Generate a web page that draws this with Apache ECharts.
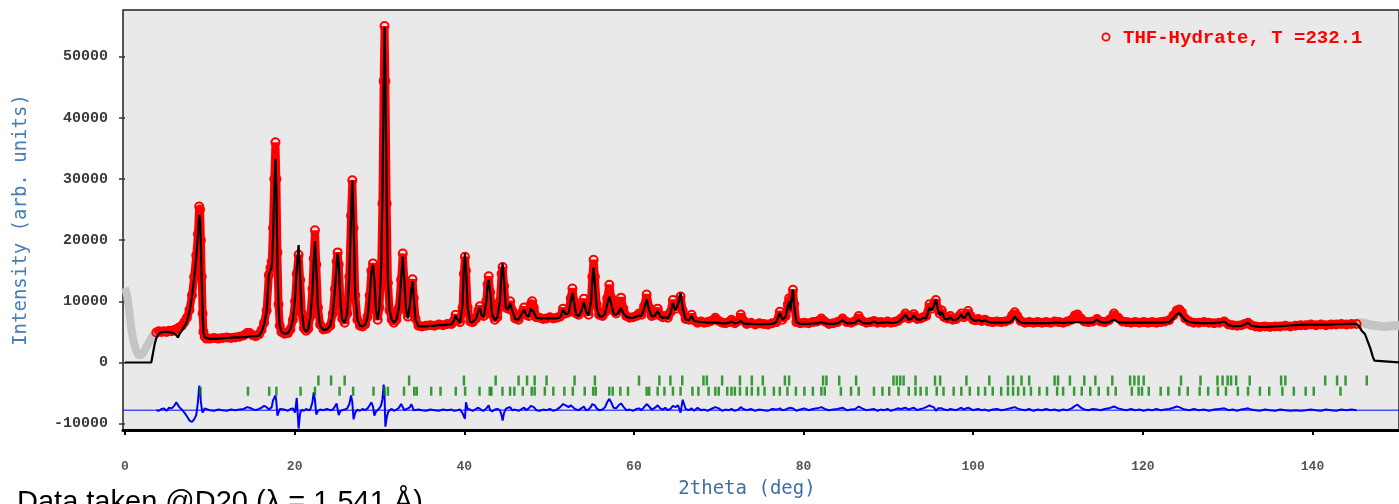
<!DOCTYPE html>
<html>
<head>
<meta charset="utf-8">
<script src="https://cdn.jsdelivr.net/npm/echarts@6/dist/echarts.min.js"></script>
<style>
html,body{margin:0;padding:0;background:#fff;}
#main{width:1399px;height:504px;}
</style>
</head>
<body>
<div id="main"></div>
<script>
// ---- data ----
const legendLabel = 'THF-Hydrate, T =232.1';
const xTickValues = [0, 20, 40, 60, 80, 100, 120, 140];
const yTickValues = [-10000, 0, 10000, 20000, 30000, 40000, 50000];
const diffZero = -7800;

// 2theta grid of the measured range
const tth = [
 3.7,4.0,4.3,4.6,4.9,5.2,5.5,5.8,6.05,6.25,
 6.4,6.7,7.0,7.3,7.6,7.9,8.15,8.4,8.6,8.75,
 8.85,8.95,9.05,9.15,9.25,9.4,9.6,10.0,10.5,11.0,
 11.5,12.0,12.5,13.0,13.5,14.0,14.4,14.7,15.0,15.4,
 15.8,16.1,16.4,16.7,16.96,17.15,17.3,17.45,17.6,17.74,
 17.85,17.97,18.1,18.25,18.45,18.8,19.2,19.5,19.8,20.05,
 20.25,20.47,20.65,20.85,21.1,21.35,21.6,21.85,22.1,22.25,
 22.4,22.55,22.75,23.0,23.4,23.8,24.2,24.5,24.75,24.95,
 25.07,25.2,25.4,25.6,25.9,26.2,26.45,26.65,26.8,26.95,
 27.15,27.4,27.7,28.0,28.3,28.6,28.85,29.05,29.24,29.4,
 29.6,29.8,30.0,30.2,30.35,30.5,30.6,30.7,30.85,31.0,
 31.2,31.45,31.7,32.0,32.3,32.55,32.75,32.95,33.15,33.35,
 33.6,33.75,33.9,34.05,34.25,34.6,35.0,35.5,36.0,36.5,
 37.0,37.5,38.0,38.5,38.8,38.98,39.2,39.5,39.8,39.95,
 40.08,40.2,40.4,40.7,41.0,41.4,41.65,41.83,42.05,42.3,
 42.6,42.75,42.88,43.05,43.3,43.6,43.9,44.2,44.4,44.52,
 44.7,44.9,45.15,45.4,45.65,46.0,46.4,46.8,47.05,47.3,
 47.6,47.85,48.0,48.2,48.5,48.9,49.3,49.7,50.1,50.5,
 50.9,51.3,51.65,51.95,52.3,52.55,52.75,52.95,53.2,53.5,
 53.8,54.1,54.35,54.65,54.95,55.1,55.25,55.4,55.6,55.9,
 56.3,56.6,56.85,57.1,57.35,57.6,57.9,58.2,58.48,58.75,
 59.1,59.5,59.9,60.3,60.6,60.9,61.2,61.5,61.8,62.1,
 62.5,62.8,63.1,63.4,63.7,64.0,64.3,64.6,64.9,65.2,
 65.5,65.75,66.1,66.5,66.8,67.1,67.5,67.9,68.3,68.7,
 69.1,69.6,70.0,70.4,70.8,71.2,71.5,71.9,72.3,72.6,
 72.9,73.3,73.8,74.3,74.8,75.3,75.8,76.3,76.8,77.2,
 77.5,77.9,78.15,78.3,78.45,78.6,78.75,78.9,79.15,79.6,
 80.1,80.6,81.1,81.6,82.1,82.5,83.0,83.5,84.0,84.6,
 85.1,85.6,86.1,86.5,86.9,87.4,87.9,88.3,88.7,89.1,
 89.5,89.9,90.3,90.7,91.1,91.5,92.0,92.4,92.7,93.0,
 93.4,93.8,94.1,94.45,94.85,95.1,95.35,95.6,95.85,96.05,
 96.3,96.6,97.0,97.3,97.6,98.0,98.3,98.6,98.9,99.15,
 99.4,99.7,100.0,100.3,100.6,101.0,101.4,101.8,102.3,102.8,
 103.3,103.8,104.3,104.6,104.9,105.2,105.6,106.1,106.6,107.1,
 107.6,108.1,108.6,109.1,109.6,110.1,110.6,111.1,111.6,112.0,
 112.3,112.7,113.1,113.6,114.1,114.6,115.0,115.5,116.0,116.6,
 117.1,117.6,118.1,118.6,119.1,119.6,120.1,120.6,121.1,121.6,
 122.1,122.6,123.1,123.6,124.0,124.3,124.6,125.0,125.5,126.0,
 126.6,127.2,127.8,128.4,129.0,129.6,130.1,130.6,131.1,131.6,
 132.0,132.4,132.8,133.3,133.8,134.4,135.0,135.6,136.2,136.8,
 137.4,138.0,138.6,139.2,139.8,140.4,141.0,141.6,142.2,142.8,
 143.4,144.0,144.6,145.2
];

// observed intensity
const obs = [
 4900,5100,5000,5100,5000,5200,5100,5300,5400,5600,
 5700,6000,6600,7300,8600,11000,14000,17500,21000,25500,
 25000,20000,14000,8000,5000,4200,3900,3900,4000,3900,
 4000,4100,4000,4100,4200,4400,4800,4800,4500,4300,
 4600,5300,6500,8500,14300,15500,16500,22000,30000,36000,
 30000,18000,9500,6000,5000,4700,4800,5400,7000,10000,
 14500,17600,13500,8000,5600,5200,5500,7500,12000,17000,
 21600,16000,9000,6200,5400,5500,6000,8000,12000,16500,
 18000,16000,10000,7200,6500,8000,14000,24000,29800,22000,
 11000,7000,6000,5900,6200,7500,11000,15000,16200,13000,
 8500,7000,9000,15000,26000,46000,55000,46000,26000,13000,
 8500,7000,6500,7000,9000,13500,17800,13000,8500,7500,
 9500,12000,13600,10500,7200,6000,5900,6000,6100,6000,
 6200,6100,6300,6300,6900,7800,6900,6600,9000,14500,
 17300,15000,9000,6700,6600,7200,8500,9200,7800,7600,
 10000,12800,14100,11500,7800,7000,7400,10000,14500,15600,
 12500,9000,8800,10000,8500,7200,7000,8200,9000,7800,
 7600,9500,10000,9000,7400,7300,7100,7200,7400,7200,
 7300,7500,8800,8000,8200,10500,12100,10000,8000,7800,
 8600,10400,8500,7800,10500,14000,16800,14000,9500,7800,
 7600,8200,10500,12700,10500,8500,8000,9000,10600,8800,
 7600,7300,7400,7600,8000,7800,9200,11100,9000,7600,
 7800,8800,7700,7400,7600,7300,8200,10200,8800,9500,
 10800,8500,7100,7000,7800,6900,6500,6700,6500,6600,
 6800,7300,6800,6500,6400,6600,7000,6400,6800,7850,
 6900,6300,6500,6200,6400,6300,6200,6400,6600,8300,
 7000,7600,9500,10500,9000,10500,11900,9500,6600,6400,
 6500,6400,6600,6700,7200,6700,6300,6400,6600,7200,
 6600,6500,6800,7600,6800,6500,6600,6800,6500,6600,
 6500,6700,6500,6600,6800,7200,8000,7200,7400,7900,
 7100,7200,7400,7600,9500,8800,9500,10200,8800,8000,
 8500,7400,7200,7600,7000,7100,7500,8000,7400,7800,
 8400,7600,7000,6900,7100,6800,7000,6700,6600,6700,
 6600,6700,7000,7700,8200,7600,6800,6500,6600,6500,
 6600,6500,6600,6500,6700,6600,6500,6700,7000,7700,
 7850,7200,6700,6600,6700,7100,6700,6600,6900,8000,
 7300,6700,6600,6500,6600,6500,6600,6500,6600,6500,
 6600,6700,6900,7700,8500,8650,8200,7200,6700,6500,
 6500,6600,6500,6400,6500,6700,6200,6100,6000,6100,
 6300,6500,6100,5900,5800,5900,5800,5900,5900,6000,
 5900,6000,6100,6100,6200,6100,6200,6100,6200,6200,
 6300,6200,6300,6300
];

// calculated profile
const calc = [
 4000,4700,4950,5000,5000,4950,4900,4700,4500,4050,
 4600,5200,5900,6700,8300,10800,13800,17000,21000,24100,
 23500,19000,13300,8000,5000,4100,3800,3850,3850,3900,
 3950,4000,4050,4100,4100,4150,4200,4250,4300,4300,
 4400,5000,6200,8300,14300,15100,15500,20000,28000,33300,
 28000,16000,9000,6000,5000,4700,4800,5400,7000,10500,
 15500,19200,14000,8200,5600,5000,5400,7400,11500,16500,
 19800,15500,9000,6000,5300,5400,6000,8000,12000,16000,
 17850,16000,10000,7000,6500,8000,14000,24000,29750,23000,
 11000,7000,6000,5900,6200,7300,11000,14800,16000,13500,
 8500,7000,9000,15500,27000,45000,54900,47000,27000,13500,
 8500,7000,6500,7000,9000,13500,17300,13000,8500,7200,
 9500,12000,13300,10500,7000,5900,5900,5900,6000,6000,
 6100,6100,6200,6250,6900,7700,7000,6500,9500,15500,
 17850,15500,9000,6600,6600,7200,8300,8900,7700,7500,
 10000,12800,13500,11500,7800,6900,7400,10000,15000,16200,
 13000,9000,8600,9700,8500,7100,7000,8000,8650,7800,
 7500,8800,8900,8200,7300,7200,7200,7200,7200,7200,
 7200,7400,8600,7900,8000,10000,11350,9800,7800,7600,
 8400,9900,8400,7700,10000,13500,15500,13000,9000,7600,
 7500,8000,9500,10800,9500,8000,7700,8200,8900,8000,
 7500,7300,7300,7500,7700,7600,8800,10300,8600,7500,
 7700,8400,7600,7300,7400,7200,8000,9700,8500,9500,
 11350,8800,7000,6900,7600,6800,6700,6600,6600,6500,
 6500,6500,6500,6400,6400,6500,6700,6400,6500,6800,
 6400,6300,6300,6250,6250,6250,6300,6300,6600,8100,
 7000,7500,9300,10000,8500,10500,11900,9200,6600,6300,
 6300,6300,6400,6400,6600,6400,6300,6300,6400,6900,
 6400,6400,6500,7000,6500,6400,6400,6700,6400,6500,
 6500,6600,6450,6500,6600,7000,7800,7000,7100,7700,
 7000,7000,7300,7200,9000,8500,9200,10300,8600,7700,
 8300,7200,7000,7400,6900,7000,7300,7800,7200,7600,
 8200,7300,6900,6800,7000,6700,6900,6600,6500,6500,
 6500,6500,6600,6900,7500,7000,6500,6450,6450,6450,
 6450,6450,6450,6450,6500,6500,6450,6500,6500,6600,
 6600,6550,6500,6500,6500,7000,6600,6500,6600,7000,
 6600,6500,6500,6500,6500,6500,6500,6500,6500,6500,
 6500,6550,6600,7200,7900,8100,7600,6900,6600,6500,
 6450,6450,6450,6450,6500,6700,6100,5950,5950,6000,
 6200,6500,6000,5900,5800,5800,5850,5900,5950,6000,
 6050,6100,6150,6200,6200,6200,6200,6200,6200,6250,
 6250,6300,6300,6300
];

// calculated profile outside the measured range
const calcHeadX = [0, 3.1, 3.3, 3.5];
const calcHeadY = [0, 0, 1500, 3000];
const calcTailX = [145.5, 145.8, 146.2, 146.5, 146.8, 147.1, 147.3, 147.5, 150.2];
const calcTailY = [5900, 5200, 4600, 3500, 2400, 1000, 300, 0, 0];

// difference curve (obs - calc, shifted)
const diff = [
 -7800,-7900,-7600,-7500,-7900,-7400,-7500,-7100,-6500,-6800,
 -7300,-7700,-8200,-8800,-9500,-9700,-9300,-8600,-6500,-3800,
 -4500,-6500,-7500,-8200,-7900,-7500,-7700,-7800,-7900,-7700,
 -7800,-7900,-7700,-7800,-7700,-7600,-7300,-7400,-7600,-7800,
 -7600,-7400,-7100,-7300,-7700,-7500,-7300,-6200,-5800,-5400,
 -6500,-8700,-8400,-7600,-7800,-7700,-7900,-7600,-7500,-8200,
 -5800,-10800,-8300,-7700,-7900,-7600,-7800,-7700,-6500,-4900,
 -6200,-8500,-7900,-7700,-7800,-7600,-7800,-7700,-7200,-6700,
 -7000,-8600,-7900,-7600,-7700,-7500,-6800,-5400,-6500,-9300,
 -8200,-7700,-7900,-7600,-7800,-7500,-7000,-6500,-7200,-8700,
 -8000,-7700,-7500,-7000,-6000,-3600,-5500,-10500,-9000,-8200,
 -7800,-7600,-7900,-7700,-7400,-6800,-6600,-7800,-7700,-7500,
 -7300,-6800,-6600,-7800,-7900,-7700,-7800,-7900,-7700,-7800,
 -7900,-7700,-7800,-7700,-7900,-7600,-7800,-7700,-8300,-8800,
 -9200,-6500,-7600,-7700,-7900,-7600,-7400,-7500,-7800,-7900,
 -7500,-7200,-7000,-7800,-8000,-7700,-7600,-7800,-8600,-9500,
 -8200,-7600,-7400,-7300,-7800,-7700,-7900,-7600,-7400,-7800,
 -7500,-7100,-7000,-7300,-7800,-7900,-7700,-7800,-7600,-7900,
 -7700,-7300,-6800,-7000,-7300,-7000,-6800,-7500,-7700,-7800,
 -7500,-7200,-7800,-7700,-7200,-6800,-6500,-7000,-7500,-7800,
 -7700,-7300,-6500,-5950,-6600,-7400,-7500,-7000,-6700,-7200,
 -7800,-7700,-7900,-7600,-7500,-7800,-7300,-6800,-7200,-7700,
 -7400,-7000,-7500,-7700,-7400,-7800,-7600,-7100,-7300,-7000,
 -8200,-6100,-7600,-7800,-7500,-7900,-7400,-7800,-7700,-7900,
 -7600,-7300,-7500,-7900,-7700,-7800,-7600,-7900,-7700,-7300,
 -7600,-7800,-7600,-7900,-7700,-7800,-7900,-7600,-7700,-7500,
 -7800,-7700,-7500,-7200,-7400,-7600,-7500,-7700,-7900,-7700,
 -7500,-7800,-7600,-7500,-7300,-7600,-7800,-7700,-7600,-7400,
 -7800,-7700,-7600,-7200,-7500,-7800,-7700,-7600,-7900,-7700,
 -7800,-7600,-7900,-7700,-7500,-7600,-7400,-7700,-7500,-7400,
 -7800,-7600,-7500,-7300,-7000,-7200,-7300,-7900,-7500,-7400,
 -7500,-7700,-7800,-7600,-7700,-7800,-7600,-7400,-7700,-7500,
 -7400,-7600,-7800,-7700,-7600,-7800,-7700,-7900,-7700,-7600,
 -7800,-7700,-7500,-7400,-7300,-7500,-7700,-7800,-7600,-7900,
 -7700,-7800,-7600,-7800,-7700,-7900,-7700,-7800,-7500,-7100,
 -6900,-7400,-7700,-7800,-7600,-7700,-7800,-7600,-7500,-7200,
 -7500,-7700,-7800,-7600,-7800,-7700,-7900,-7700,-7800,-7600,
 -7800,-7700,-7600,-7400,-7200,-7300,-7500,-7700,-7800,-7600,
 -7800,-7700,-7900,-7700,-7600,-7500,-7800,-7700,-7900,-7700,
 -7600,-7500,-7700,-7800,-7900,-7700,-7800,-7900,-7700,-7800,
 -7900,-7800,-7900,-7800,-7700,-7800,-7900,-7700,-7800,-7900,
 -7700,-7800,-7700,-7800
];

// excluded regions (grey)
const exclLowX = [0,0.25,0.5,0.75,1.0,1.25,1.5,1.75,2.0,2.25,2.5,2.75,3.0,3.25,3.5,3.75,4.0];
const exclLowY = [12200,11000,8500,5500,3500,2200,1400,1100,1300,1800,2500,3100,3700,4300,4800,5100,5200];
const exclHighX = [145.2,145.8,146.4,147.0,147.6,148.2,148.8,149.4,150.2];
const exclHighY = [6400,6500,6300,6100,6000,5900,5900,6000,6000];

// Bragg reflection positions (two rows)
const reflRow1 = [22.8,24.3,25.9,33.5,39.96,43.7,46.4,47.4,48.3,49.7,53.0,55.4,60.6,63.0,64.3,65.7,
 68.2,68.6,70.4,72.5,73.9,75.2,77.8,78.3,82.3,82.7,84.2,86.2,90.6,91.0,91.4,91.8,93.2,95.5,96.1,
 99.2,101.9,104.1,104.7,105.7,106.6,109.6,110.0,111.4,113.1,114.4,116.4,118.5,119.0,119.5,120.1,
 124.5,126.8,128.8,129.4,130.0,130.4,131.0,132.6,136.3,136.8,141.5,142.9,143.9,146.4];
const reflRow2 = [8.9,14.5,17.0,17.85,20.7,22.4,25.3,26.9,29.3,30.6,31.0,32.9,34.1,34.4,36.1,37.2,
 39.0,40.1,41.8,43.0,43.2,44.5,45.4,45.9,46.9,47.95,48.3,49.5,50.5,51.8,52.8,54.2,55.2,55.5,57.1,
 57.5,58.4,59.3,61.5,61.8,62.8,63.6,64.6,65.5,66.9,67.6,68.8,69.6,70.0,71.0,71.5,71.9,72.5,73.3,
 73.9,74.65,75.4,76.5,77.2,78.1,79.1,80.1,81.1,82.1,82.5,84.4,85.6,86.5,88.3,89.3,90.1,91.2,92.4,
 93.2,93.8,94.5,95.7,96.5,97.7,98.6,99.6,100.6,101.4,102.3,103.3,104.1,104.7,105.3,106.0,106.8,
 107.8,108.7,109.9,110.6,111.9,112.8,113.8,114.8,115.9,116.8,118.7,119.5,119.9,120.7,122.1,123.0,
 124.3,125.3,126.7,127.7,128.85,129.8,131.2,132.4,133.8,134.9,136.45,137.8,139.2,140.15,143.3];
const reflRow1Level = -2950;
const reflRow2Level = -4700;

// ---- chart ----
const X_MIN = -0.234, X_MAX = 150.2;
const Y_MIN = -11040, Y_MAX = 57630;
const pairs = (xs, ys) => xs.map((x, i) => [x, ys[i]]);
const calcData = pairs(calcHeadX, calcHeadY).concat(pairs(tth, calc), pairs(calcTailX, calcTailY));

const chart = echarts.init(document.getElementById('main'), null, {renderer: 'canvas'});
chart.setOption({
  animation: false,
  backgroundColor: '#ffffff',
  grid: {left: 123, top: 10, right: -10, bottom: 71, show: true,
         backgroundColor: '#e9e9e9', borderColor: '#222', borderWidth: 1.5},
  xAxis: {
    type: 'value', min: X_MIN, max: X_MAX,
    axisLine: {show: true, onZero: false, lineStyle: {color: '#000', width: 3}},
    axisTick: {show: true, length: 5, lineStyle: {color: '#000', width: 2}, customValues: xTickValues},
    axisLabel: {customValues: xTickValues, margin: 30, fontFamily: 'Liberation Mono', fontSize: 13,
                fontWeight: 'bold', color: '#555', formatter: v => String(v)},
    splitLine: {show: false},
    name: '2theta (deg)', nameLocation: 'middle', nameGap: 50,
    nameTextStyle: {fontFamily: 'DejaVu Sans Mono', fontSize: 19, color: '#3d6fa8', padding: [0, 28, 0, 0]}
  },
  yAxis: {
    type: 'value', min: Y_MIN, max: Y_MAX, offset: 4,
    axisLine: {show: true, lineStyle: {color: 'rgba(0,0,0,0)', width: 1}},
    axisTick: {show: true, length: 6, lineStyle: {color: '#333', width: 1.5}, customValues: yTickValues},
    axisLabel: {customValues: yTickValues, margin: 11, fontFamily: 'Liberation Mono', fontSize: 15,
                fontWeight: 'bold', color: '#3a3a3a', formatter: v => String(v)},
    splitLine: {show: false},
    name: 'Intensity (arb. units)', nameLocation: 'middle', nameGap: 88, nameRotate: 90,
    nameTextStyle: {fontFamily: 'DejaVu Sans Mono', fontSize: 19, color: '#4a7db5'}
  },
  series: [
    {name: 'excluded-low', type: 'line', data: pairs(exclLowX, exclLowY), symbol: 'none',
     lineStyle: {color: '#c4c4c4', width: 8}, z: 1},
    {name: 'excluded-high', type: 'line', data: pairs(exclHighX, exclHighY), symbol: 'none',
     lineStyle: {color: '#c4c4c4', width: 9}, z: 1},
    {name: legendLabel, type: 'line', data: pairs(tth, obs), symbol: 'circle', symbolSize: 8,
     showAllSymbol: true,
     itemStyle: {color: 'rgba(0,0,0,0)', borderColor: '#ff0000', borderWidth: 2},
     lineStyle: {color: '#ff0000', width: 8}, z: 2},
    {name: 'calc', type: 'line', data: calcData, symbol: 'none',
     lineStyle: {color: '#000', width: 2.2}, z: 3},
    {name: 'diff-zero', type: 'line', data: [[X_MIN, diffZero], [X_MAX, diffZero]], symbol: 'none',
     lineStyle: {color: '#0000ff', width: 1}, z: 3},
    {name: 'diff', type: 'line', data: pairs(tth, diff), symbol: 'none',
     lineStyle: {color: '#0000ff', width: 2}, z: 4},
    {name: 'refl1', type: 'scatter', data: reflRow1.map(x => [x, reflRow1Level]),
     symbol: 'rect', symbolSize: [2.5, 10], itemStyle: {color: '#0a860a'}, z: 4},
    {name: 'refl2', type: 'scatter', data: reflRow2.map(x => [x, reflRow2Level]),
     symbol: 'rect', symbolSize: [2.5, 9], itemStyle: {color: '#0a860a'}, z: 4}
  ],
  graphic: [
    {type: 'circle', shape: {cx: 1106, cy: 37, r: 3.6},
     style: {fill: 'none', stroke: '#ff0000', lineWidth: 1.8}, z: 100},
    {type: 'text', x: 1123, y: 38,
     style: {text: legendLabel, fill: '#ff0000', font: 'bold 19px "Liberation Mono"',
             verticalAlign: 'middle', align: 'left'}, z: 100},
    {type: 'text', x: 17, y: 488,
     style: {text: 'Data taken @D20 (λ = 1.541 Å)', fill: '#000', font: '29px "Liberation Sans"',
             verticalAlign: 'top', align: 'left'}, z: 100}
  ]
});
</script>
</body>
</html>
